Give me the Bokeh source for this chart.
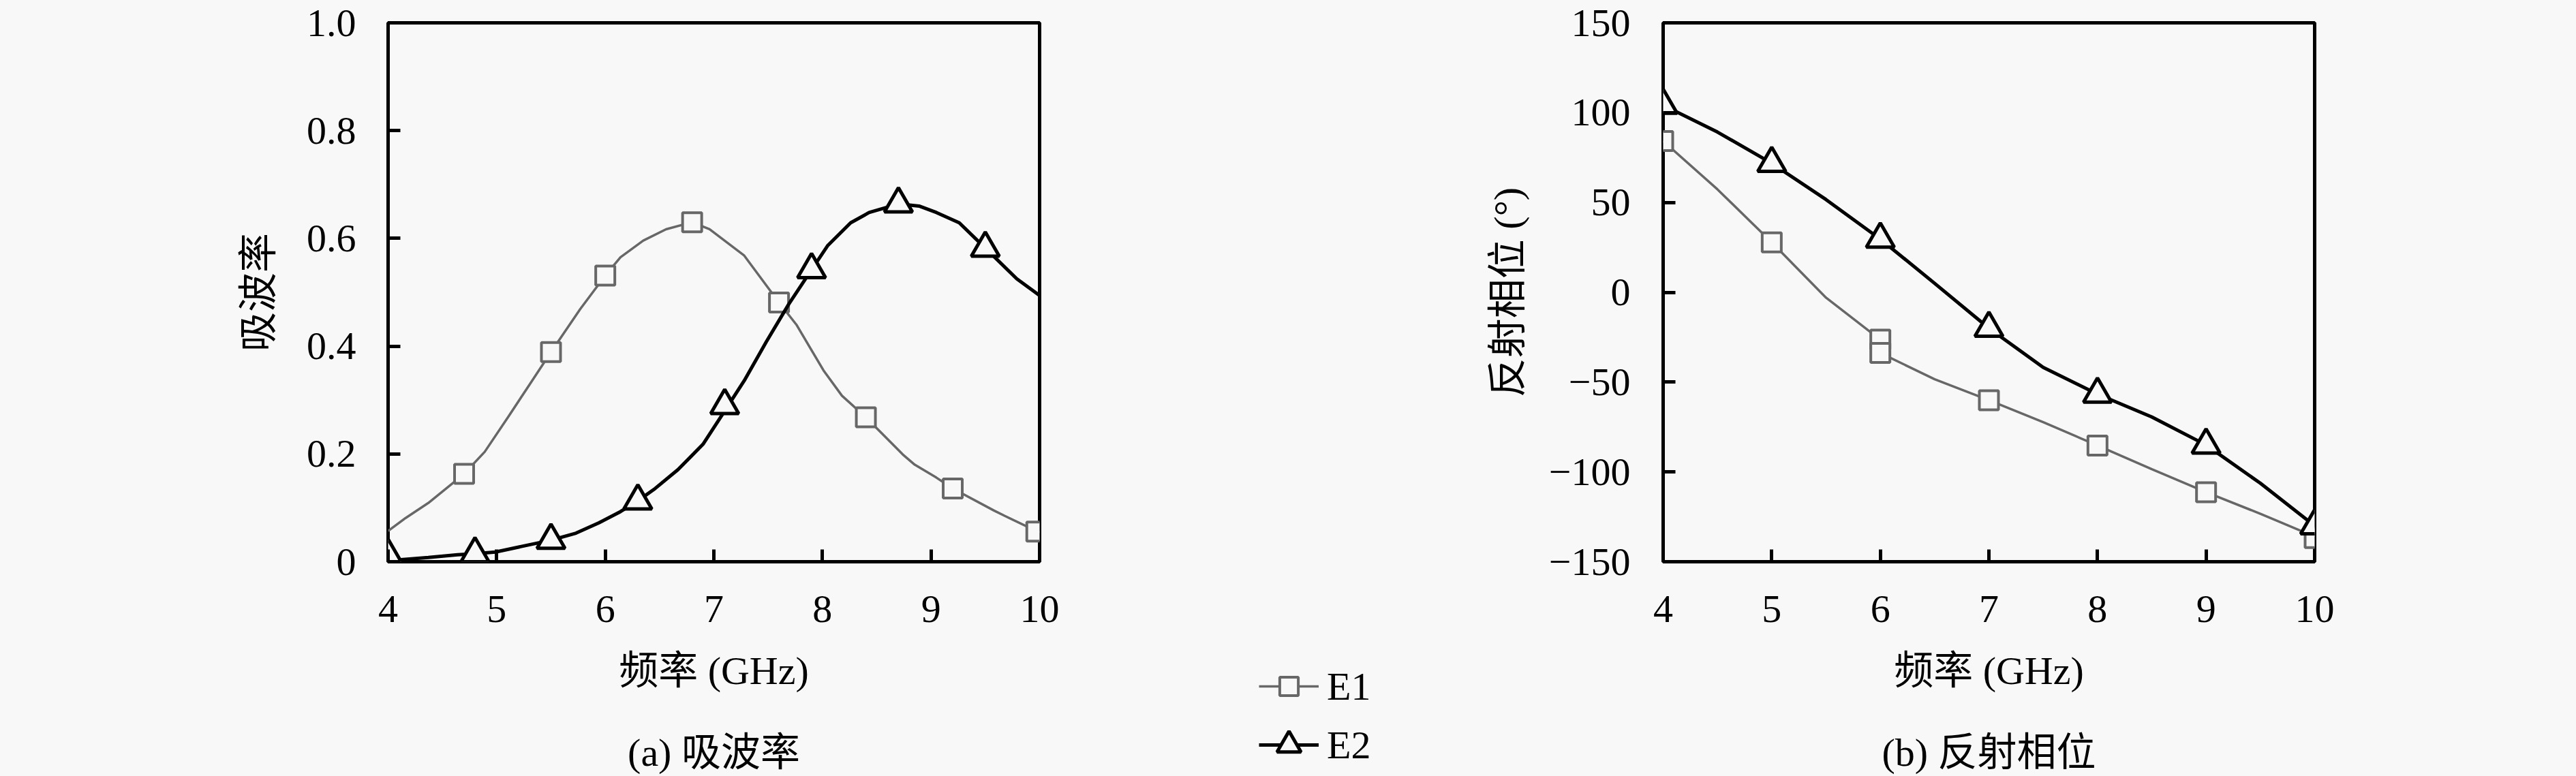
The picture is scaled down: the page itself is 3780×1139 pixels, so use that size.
from bokeh.plotting import figure
from bokeh.layouts import row, column
from bokeh.models import FixedTicker, Legend, LegendItem, Range1d, LinearAxis, Spacer
from bokeh.embed import file_html
from bokeh.resources import INLINE

# ---------------- data ----------------
# (a) absorption
a_e1_curve_x = [4.00, 4.16, 4.37, 4.70, 4.89, 5.11, 5.31, 5.50, 5.77, 6.00, 6.14, 6.35, 6.56, 6.80,
                6.96, 7.28, 7.60, 7.76, 8.01, 8.18, 8.40, 8.74, 8.85, 9.05, 9.20, 9.58, 9.68, 10.00]
a_e1_curve_y = [0.057, 0.081, 0.109, 0.163, 0.204, 0.270, 0.331, 0.389, 0.469, 0.531, 0.565, 0.596, 0.617, 0.630,
                0.617, 0.568, 0.481, 0.440, 0.355, 0.308, 0.268, 0.199, 0.180, 0.156, 0.136, 0.095, 0.085, 0.054]
a_e1_mark_x = [4.70, 5.50, 6.00, 6.80, 7.60, 8.40, 9.20, 9.97]
a_e1_mark_y = [0.163, 0.389, 0.531, 0.630, 0.481, 0.268, 0.136, 0.056]

a_e2_curve_x = [4.00, 4.37, 4.64, 4.80, 4.99, 5.50, 5.73, 5.94, 6.14, 6.30, 6.46, 6.67, 6.90, 7.10,
                7.28, 7.48, 7.69, 7.90, 8.05, 8.26, 8.43, 8.70, 8.89, 9.05, 9.26, 9.50, 9.79, 10.00]
a_e2_curve_y = [0.002, 0.008, 0.013, 0.015, 0.018, 0.040, 0.053, 0.072, 0.093, 0.113, 0.136, 0.171, 0.218, 0.280,
                0.336, 0.407, 0.478, 0.542, 0.587, 0.629, 0.648, 0.664, 0.660, 0.648, 0.629, 0.582, 0.525, 0.494]
a_e2_mark_x = [4.00, 4.80, 5.50, 6.30, 7.10, 7.90, 8.70, 9.50]
a_e2_mark_y = [0.012, 0.015, 0.040, 0.113, 0.290, 0.542, 0.664, 0.582]

# (b) reflection phase
b_e1_line_x = [4, 4.5, 5, 5.5, 6, 6, 6.5, 7, 7.5, 8, 8.5, 9, 9.5, 10]
b_e1_line_y = [84.2, 57.3, 27.8, -3.0, -26.4, -33.8, -48.4, -60.1, -72.3, -85.3, -98.5, -111.3, -123.3, -136.0]
b_e1_mark_x = [4, 5, 6, 6, 7, 8, 9, 10]
b_e1_mark_y = [84.2, 27.8, -26.4, -33.8, -60.1, -85.3, -111.3, -136.8]

b_e2_line_x = [4, 4.5, 5, 5.5, 6, 6.5, 7, 7.5, 8, 8.5, 9, 9.5, 10]
b_e2_line_y = [104.1, 89.2, 71.8, 51.6, 29.6, 5.0, -20.0, -41.8, -56.7, -69.4, -85.0, -106.3, -130.0]
b_e2_mark_x = [4, 5, 6, 7, 8, 9, 10]
b_e2_mark_y = [104.1, 71.8, 29.6, -20.0, -56.7, -85.0, -130.0]

# ticks / labels
x_ticks = [4, 5, 6, 7, 8, 9, 10]
a_y_ticks = [0, 0.2, 0.4, 0.6, 0.8, 1.0]
a_y_labels = ["0", "0.2", "0.4", "0.6", "0.8", "1.0"]
b_y_ticks = [-150, -100, -50, 0, 50, 100, 150]
b_y_labels = ["\u2212150", "\u2212100", "\u221250", "0", "50", "100", "150"]

series_names = ["E1", "E2"]
x_title = "频率 (GHz)"
a_y_title = "吸波率"
b_y_title = "反射相位 (°)"
a_caption = "(a) 吸波率"
b_caption = "(b) 反射相位"

# ---------------- style ----------------
FONT = "Liberation Serif, Noto Sans CJK SC"
FS = "58px"
BG = "#f8f8f8"
GREY = "#676767"
BLACK = "#000000"
H = 1139
TOP = 33
BOTTOM = 313
LEG_H = 200


def style(p, yticks, ylabels, ytitle, caption, ylab_standoff, ytick_standoff):
    p.background_fill_color = BG
    p.border_fill_color = BG
    p.outline_line_color = BLACK
    p.outline_line_width = 5
    p.grid.visible = False
    p.xaxis.ticker = FixedTicker(ticks=x_ticks)
    p.yaxis.ticker = FixedTicker(ticks=yticks)
    p.yaxis.major_label_overrides = {t: l for t, l in zip(yticks, ylabels)}
    for ax in (p.xaxis, p.yaxis):
        ax.axis_line_color = None
        ax.major_tick_in = 18
        ax.major_tick_out = 0
        ax.major_tick_line_width = 5
        ax.major_tick_line_color = BLACK
        ax.minor_tick_line_color = None
        ax.major_label_text_font = FONT
        ax.major_label_text_font_size = FS
        ax.major_label_text_color = BLACK
        ax.axis_label_text_font = FONT
        ax.axis_label_text_font_size = FS
        ax.axis_label_text_font_style = "normal"
        ax.axis_label_text_color = BLACK
    p.xaxis.axis_label = x_title
    p.xaxis.major_label_standoff = 50
    p.xaxis.axis_label_standoff = 36
    p.yaxis.axis_label = ytitle
    p.yaxis.major_label_standoff = ytick_standoff
    p.yaxis.axis_label_standoff = ylab_standoff
    # caption: a tick-less axis below the x axis
    cap = LinearAxis(ticker=FixedTicker(ticks=[]), axis_label=caption,
                     axis_line_color=None, major_tick_line_color=None, minor_tick_line_color=None,
                     major_tick_in=0, major_tick_out=0, minor_tick_in=0, minor_tick_out=0,
                     major_label_standoff=0, axis_label_standoff=52,
                     axis_label_text_font=FONT, axis_label_text_font_size=FS,
                     axis_label_text_font_style="normal", axis_label_text_color=BLACK)
    p.add_layout(cap, "below")


def draw(p, e1x, e1y, e1mx, e1my, e2x, e2y, e2mx, e2my):
    r1 = p.line(x=e1x, y=e1y, line_color=GREY, line_width=3.5)
    s1 = p.scatter(x=e1mx, y=e1my, marker="square", size=28, line_color=GREY, line_width=4, fill_color=BG)
    r2 = p.line(x=e2x, y=e2y, line_color=BLACK, line_width=5)
    s2 = p.scatter(x=e2mx, y=e2my, marker="triangle", size=41, line_color=BLACK, line_width=5, fill_color=BG)
    return [r1, s1], [r2, s2]


pa = figure(width=1700, height=H, x_range=Range1d(4, 10), y_range=Range1d(0, 1),
            min_border_left=569, min_border_right=175, min_border_top=TOP, min_border_bottom=BOTTOM,
            output_backend="svg", toolbar_location=None, tools="")
style(pa, a_y_ticks, a_y_labels, a_y_title, a_caption, 35, 47)
draw(pa, a_e1_curve_x, a_e1_curve_y, a_e1_mark_x, a_e1_mark_y,
     a_e2_curve_x, a_e2_curve_y, a_e2_mark_x, a_e2_mark_y)

pb = figure(width=1337, height=H, x_range=Range1d(4, 10), y_range=Range1d(-150, 150),
            min_border_left=340, min_border_right=41, min_border_top=TOP, min_border_bottom=BOTTOM,
            output_backend="svg", toolbar_location=None, tools="")
style(pb, b_y_ticks, b_y_labels, b_y_title, b_caption, 25, 48)
draw(pb, b_e1_line_x, b_e1_line_y, b_e1_mark_x, b_e1_mark_y,
     b_e2_line_x, b_e2_line_y, b_e2_mark_x, b_e2_mark_y)

# legend panel: its ranges lie outside the data, so only the legend glyphs show
pm = figure(width=400, height=LEG_H, x_range=Range1d(-1, 0), y_range=Range1d(-1, 0),
            x_axis_type=None, y_axis_type=None, min_border=0,
            output_backend="svg", toolbar_location=None, tools="")
pm.background_fill_color = BG
pm.border_fill_color = BG
pm.outline_line_color = None
pm.grid.visible = False
e1_rends, e2_rends = draw(pm, b_e1_line_x, b_e1_line_y, b_e1_mark_x, b_e1_mark_y,
                          b_e2_line_x, b_e2_line_y, b_e2_mark_x, b_e2_mark_y)

for name, rends, gh, loc in [(series_names[0], e1_rends, 68, (147, 98)),
                             (series_names[1], e2_rends, 90, (147, 1))]:
    leg = Legend(items=[LegendItem(label=name, renderers=rends)], location=loc,
                 glyph_width=88, glyph_height=gh, label_standoff=12, padding=0, margin=0,
                 spacing=0, border_line_color=None, background_fill_alpha=0,
                 label_text_font=FONT, label_text_font_size=FS, label_text_color=BLACK)
    pm.add_layout(leg)

gap = Spacer(width=400, height=H - LEG_H, styles={"background-color": BG})
middle = column(gap, pm, spacing=0, styles={"background-color": BG})
layout = row(pa, middle, pb, styles={"background-color": BG})
html = file_html(layout, INLINE)
html = html.replace("</head>",
                    "<style>html, body { background-color: #f8f8f8 !important; }</style>\n</head>", 1)
open("out.html", "w").write(html)
